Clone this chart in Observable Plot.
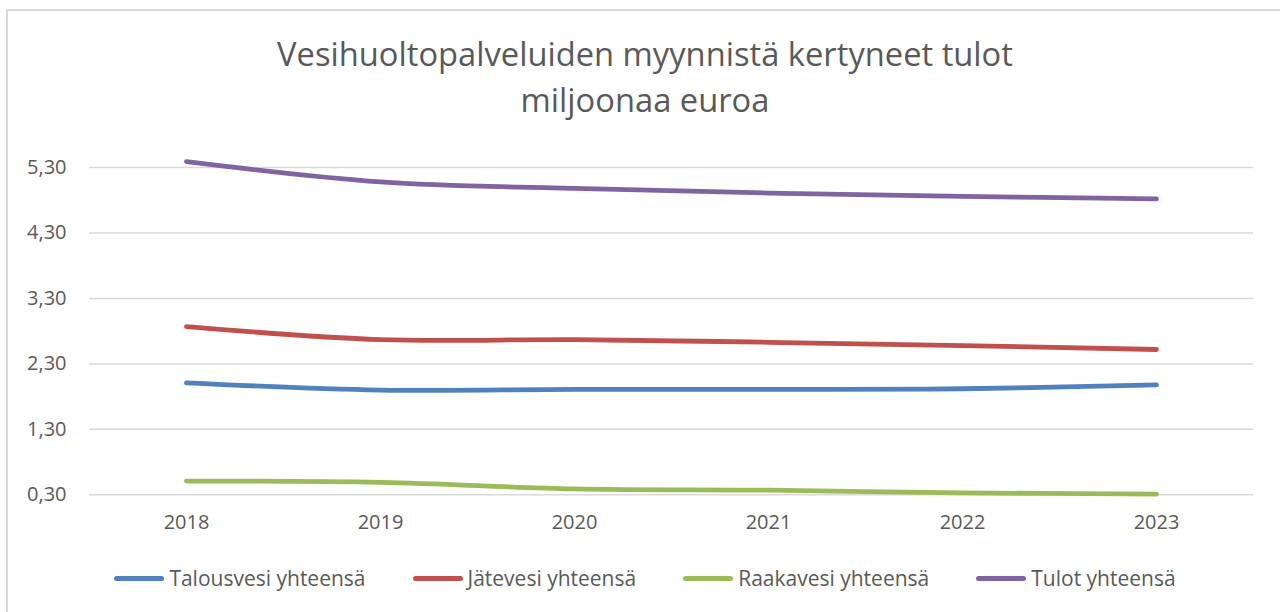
<!DOCTYPE html>
<html>
<head>
<meta charset="utf-8">
<script src="https://cdn.jsdelivr.net/npm/d3@7"></script>
<script src="https://cdn.jsdelivr.net/npm/@observablehq/plot@0.6"></script>
<style>
  html, body { margin: 0; padding: 0; background: #fff; }
  #wrap { position: relative; width: 1280px; height: 612px; overflow: hidden; font-family: "Open Sans", sans-serif; color: #595959; }
  #frame { position: absolute; left: 6px; top: 9px; width: 1300px; height: 640px; border: 2px solid #d9d9d9; box-sizing: border-box; }
  #title { position: absolute; left: 10px; top: 31px; width: 1270px; text-align: center; font-size: 32.7px; line-height: 46px; }
  #chart { position: absolute; left: 0; top: 130px; }
  #legend { position: absolute; left: 10px; top: 563px; width: 1270px; display: flex; justify-content: center; gap: 47px; font-size: 21px; line-height: 30px; }
  .item { display: flex; align-items: center; }
  .sw { width: 50px; height: 5px; border-radius: 3px; margin-right: 5px; }
</style>
</head>
<body>
<div id="wrap">
  <div id="frame"></div>
  <div id="title"></div>
  <div id="chart"></div>
  <div id="legend"></div>
</div>
<script>
const titleLines = ["Vesihuoltopalveluiden myynnistä kertyneet tulot", "miljoonaa euroa"];
const years = ["2018", "2019", "2020", "2021", "2022", "2023"];
const seriesNames = ["Talousvesi yhteensä", "Jätevesi yhteensä", "Raakavesi yhteensä", "Tulot yhteensä"];
const seriesColors = ["#4F81BD", "#C0504D", "#9BBB59", "#8064A2"];
const talousvesi = [2.01, 1.90, 1.91, 1.91, 1.92, 1.98];
const jatevesi = [2.87, 2.67, 2.67, 2.63, 2.58, 2.52];
const raakavesi = [0.51, 0.49, 0.39, 0.37, 0.33, 0.31];
const tulot = [5.39, 5.08, 4.98, 4.91, 4.86, 4.82];
const yTicks = [0.30, 1.30, 2.30, 3.30, 4.30, 5.30];

const seriesValues = [talousvesi, jatevesi, raakavesi, tulot];
const data = [];
seriesNames.forEach((s, i) => years.forEach((y, j) => data.push({series: s, year: y, value: seriesValues[i][j]})));

document.getElementById("title").innerHTML = titleLines.join("<br>");

const fmt = d => d3.format(".2f")(d).replace(".", ",");

const chart = Plot.plot({
  width: 1280,
  height: 410,
  marginLeft: 89,
  marginRight: 27,
  marginTop: 37,
  marginBottom: 45.7,
  style: {fontFamily: "Open Sans, sans-serif", color: "#595959", background: "transparent"},
  x: {type: "point", domain: years, padding: 0.5},
  y: {domain: [0.30, 5.30]},
  color: {domain: seriesNames, range: seriesColors},
  marks: [
    Plot.ruleY(yTicks, {stroke: "#d9d9d9", strokeWidth: 1.5}),
    Plot.axisY(yTicks, {tickSize: 0, tickPadding: 23, tickFormat: fmt, fontSize: 20, label: null, fill: "#595959"}),
    Plot.axisX({tickSize: 0, tickPadding: 20, fontSize: 20, label: null, fill: "#595959"}),
    Plot.line(data, {x: "year", y: "value", z: "series", stroke: "series", strokeWidth: 4.8, curve: "catmull-rom", strokeLinecap: "round", strokeLinejoin: "round", clip: false})
  ]
});
document.getElementById("chart").appendChild(chart);

const legend = document.getElementById("legend");
seriesNames.forEach((s, i) => {
  const it = document.createElement("div");
  it.className = "item";
  const sw = document.createElement("div");
  sw.className = "sw";
  sw.style.background = seriesColors[i];
  const t = document.createElement("span");
  t.textContent = s;
  it.appendChild(sw);
  it.appendChild(t);
  legend.appendChild(it);
});
</script>
</body>
</html>
